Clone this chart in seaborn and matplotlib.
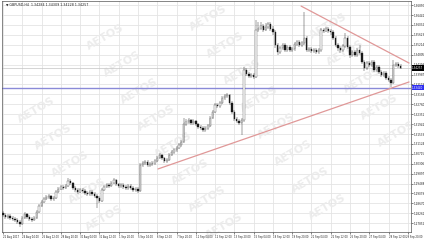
import numpy as np
import pandas as pd
import matplotlib
matplotlib.use("Agg")
import matplotlib.pyplot as plt
import matplotlib.transforms as mtransforms
import seaborn as sns

title_text = "GBPUSD,H4  1.34284 1.34309 1.34228 1.34257"

opens = [1.2827, 1.2819, 1.2811, 1.2815, 1.2807, 1.2802, 1.2798, 1.2790, 1.2782, 1.2807,
         1.2823, 1.2811, 1.2802, 1.2798, 1.2807, 1.2831, 1.2856, 1.2872, 1.2885, 1.2893,
         1.2897, 1.2885, 1.2889, 1.2914, 1.2926, 1.2934, 1.2930, 1.2939, 1.2959, 1.2951,
         1.2930, 1.2922, 1.2914, 1.2922, 1.2918, 1.2910, 1.2906, 1.2914, 1.2906, 1.2897,
         1.2889, 1.2877, 1.2922, 1.2934, 1.2943, 1.2939, 1.2951, 1.2963, 1.2947, 1.2939,
         1.2943, 1.2934, 1.2930, 1.2939, 1.2930, 1.2922, 1.2926, 1.2918, 1.3025, 1.3033,
         1.3037, 1.3025, 1.3029, 1.3033, 1.3042, 1.3054, 1.3066, 1.3054, 1.3042, 1.3046,
         1.3066, 1.3079, 1.3087, 1.3095, 1.3108, 1.3120, 1.3194, 1.3202, 1.3211, 1.3198,
         1.3207, 1.3194, 1.3182, 1.3178, 1.3170, 1.3178, 1.3186, 1.3219, 1.3244, 1.3273,
         1.3269, 1.3281, 1.3302, 1.3310, 1.3314, 1.3281, 1.3244, 1.3215, 1.3207, 1.3198,
         1.3211, 1.3417, 1.3401, 1.3392, 1.3397, 1.3388, 1.3582, 1.3590, 1.3599, 1.3582,
         1.3595, 1.3607, 1.3586, 1.3574, 1.3520, 1.3491, 1.3508, 1.3520, 1.3500, 1.3512,
         1.3500, 1.3504, 1.3525, 1.3533, 1.3520, 1.3529, 1.3549, 1.3500, 1.3504, 1.3496,
         1.3500, 1.3491, 1.3500, 1.3582, 1.3578, 1.3586, 1.3578, 1.3574, 1.3549, 1.3520,
         1.3508, 1.3500, 1.3516, 1.3549, 1.3512, 1.3479, 1.3491, 1.3479, 1.3500, 1.3487,
         1.3450, 1.3425, 1.3446, 1.3438, 1.3450, 1.3417, 1.3430, 1.3409, 1.3397, 1.3405,
         1.3384, 1.3376, 1.3364, 1.3438, 1.3442, 1.3434]

closes = [1.2819, 1.2811, 1.2815, 1.2807, 1.2802, 1.2798, 1.2790, 1.2782, 1.2807, 1.2823,
          1.2811, 1.2802, 1.2798, 1.2807, 1.2831, 1.2856, 1.2872, 1.2885, 1.2893, 1.2897,
          1.2885, 1.2889, 1.2914, 1.2926, 1.2934, 1.2930, 1.2939, 1.2959, 1.2951, 1.2930,
          1.2922, 1.2914, 1.2922, 1.2918, 1.2910, 1.2906, 1.2914, 1.2906, 1.2897, 1.2889,
          1.2877, 1.2922, 1.2934, 1.2943, 1.2939, 1.2951, 1.2963, 1.2947, 1.2939, 1.2943,
          1.2934, 1.2930, 1.2939, 1.2930, 1.2922, 1.2926, 1.2918, 1.3025, 1.3033, 1.3037,
          1.3025, 1.3029, 1.3033, 1.3042, 1.3054, 1.3066, 1.3054, 1.3042, 1.3046, 1.3066,
          1.3079, 1.3087, 1.3095, 1.3108, 1.3120, 1.3194, 1.3202, 1.3211, 1.3198, 1.3207,
          1.3194, 1.3182, 1.3178, 1.3170, 1.3178, 1.3186, 1.3219, 1.3244, 1.3273, 1.3269,
          1.3281, 1.3302, 1.3310, 1.3314, 1.3281, 1.3244, 1.3215, 1.3207, 1.3198, 1.3211,
          1.3417, 1.3401, 1.3392, 1.3397, 1.3388, 1.3582, 1.3590, 1.3599, 1.3582, 1.3595,
          1.3607, 1.3586, 1.3574, 1.3520, 1.3491, 1.3508, 1.3520, 1.3500, 1.3512, 1.3500,
          1.3504, 1.3525, 1.3533, 1.3520, 1.3529, 1.3549, 1.3500, 1.3504, 1.3496, 1.3500,
          1.3491, 1.3500, 1.3582, 1.3578, 1.3586, 1.3578, 1.3574, 1.3549, 1.3520, 1.3508,
          1.3500, 1.3516, 1.3549, 1.3512, 1.3479, 1.3491, 1.3479, 1.3500, 1.3487, 1.3450,
          1.3425, 1.3446, 1.3438, 1.3450, 1.3417, 1.3430, 1.3409, 1.3397, 1.3405, 1.3384,
          1.3376, 1.3364, 1.3438, 1.3442, 1.3434, 1.3425]

highs = [1.2835, 1.2827, 1.2823, 1.2823, 1.2815, 1.2811, 1.2807, 1.2798, 1.2815, 1.2831,
         1.2827, 1.2819, 1.2811, 1.2815, 1.2840, 1.2864, 1.2881, 1.2893, 1.2901, 1.2906,
         1.2901, 1.2897, 1.2922, 1.2934, 1.2943, 1.2943, 1.2947, 1.2972, 1.2967, 1.2955,
         1.2939, 1.2930, 1.2930, 1.2930, 1.2926, 1.2918, 1.2922, 1.2922, 1.2914, 1.2906,
         1.2897, 1.2930, 1.2943, 1.2951, 1.2951, 1.2959, 1.2972, 1.2967, 1.2951, 1.2951,
         1.2951, 1.2943, 1.2947, 1.2947, 1.2939, 1.2934, 1.2934, 1.3033, 1.3042, 1.3046,
         1.3046, 1.3037, 1.3042, 1.3050, 1.3062, 1.3075, 1.3071, 1.3058, 1.3054, 1.3075,
         1.3087, 1.3095, 1.3104, 1.3116, 1.3128, 1.3219, 1.3215, 1.3219, 1.3215, 1.3215,
         1.3211, 1.3198, 1.3190, 1.3186, 1.3186, 1.3194, 1.3227, 1.3252, 1.3281, 1.3281,
         1.3289, 1.3310, 1.3318, 1.3322, 1.3318, 1.3289, 1.3252, 1.3223, 1.3215, 1.3219,
         1.3430, 1.3425, 1.3409, 1.3405, 1.3405, 1.3624, 1.3615, 1.3615, 1.3607, 1.3611,
         1.3615, 1.3615, 1.3599, 1.3582, 1.3529, 1.3516, 1.3529, 1.3529, 1.3520, 1.3520,
         1.3512, 1.3533, 1.3541, 1.3541, 1.3537, 1.3656, 1.3557, 1.3512, 1.3512, 1.3508,
         1.3508, 1.3508, 1.3590, 1.3590, 1.3595, 1.3595, 1.3586, 1.3582, 1.3557, 1.3529,
         1.3516, 1.3525, 1.3570, 1.3557, 1.3520, 1.3500, 1.3500, 1.3508, 1.3520, 1.3496,
         1.3458, 1.3454, 1.3454, 1.3458, 1.3458, 1.3438, 1.3438, 1.3417, 1.3413, 1.3413,
         1.3392, 1.3384, 1.3458, 1.3450, 1.3450, 1.3442]

lows = [1.2811, 1.2802, 1.2802, 1.2798, 1.2794, 1.2790, 1.2782, 1.2769, 1.2778, 1.2802,
        1.2802, 1.2794, 1.2790, 1.2794, 1.2802, 1.2827, 1.2852, 1.2868, 1.2881, 1.2885,
        1.2877, 1.2877, 1.2885, 1.2910, 1.2922, 1.2922, 1.2926, 1.2934, 1.2943, 1.2922,
        1.2914, 1.2906, 1.2910, 1.2910, 1.2901, 1.2897, 1.2897, 1.2897, 1.2889, 1.2848,
        1.2868, 1.2872, 1.2918, 1.2930, 1.2930, 1.2934, 1.2947, 1.2939, 1.2930, 1.2930,
        1.2926, 1.2922, 1.2922, 1.2922, 1.2914, 1.2914, 1.2910, 1.2914, 1.3017, 1.3025,
        1.3017, 1.3017, 1.3021, 1.3025, 1.3037, 1.3050, 1.3046, 1.3033, 1.3033, 1.3042,
        1.3062, 1.3071, 1.3079, 1.3091, 1.3100, 1.3116, 1.3186, 1.3194, 1.3190, 1.3190,
        1.3186, 1.3174, 1.3170, 1.3161, 1.3161, 1.3170, 1.3182, 1.3215, 1.3240, 1.3260,
        1.3260, 1.3277, 1.3293, 1.3302, 1.3273, 1.3235, 1.3207, 1.3198, 1.3190, 1.3149,
        1.3202, 1.3392, 1.3384, 1.3384, 1.3380, 1.3384, 1.3574, 1.3582, 1.3574, 1.3578,
        1.3586, 1.3578, 1.3562, 1.3508, 1.3479, 1.3483, 1.3500, 1.3491, 1.3491, 1.3491,
        1.3491, 1.3496, 1.3516, 1.3512, 1.3512, 1.3520, 1.3491, 1.3491, 1.3487, 1.3487,
        1.3483, 1.3483, 1.3491, 1.3570, 1.3574, 1.3570, 1.3562, 1.3541, 1.3512, 1.3496,
        1.3487, 1.3491, 1.3508, 1.3504, 1.3467, 1.3471, 1.3471, 1.3471, 1.3479, 1.3442,
        1.3413, 1.3417, 1.3430, 1.3430, 1.3409, 1.3409, 1.3401, 1.3388, 1.3388, 1.3376,
        1.3368, 1.3347, 1.3359, 1.3430, 1.3425, 1.3421]

date_labels = ["22 Aug 2017", "24 Aug 04:00", "25 Aug 12:00", "28 Aug 20:00", "30 Aug 04:00",
               "31 Aug 12:00", "1 Sep 20:00", "5 Sep 04:00", "6 Sep 12:00", "7 Sep 20:00",
               "11 Sep 04:00", "12 Sep 12:00", "13 Sep 20:00", "15 Sep 04:00", "18 Sep 12:00",
               "19 Sep 20:00", "21 Sep 04:00", "22 Sep 12:00", "25 Sep 20:00", "27 Sep 04:00",
               "28 Sep 12:00", "29 Sep 20:00"]

price_ticks = [1.36850, 1.36441, 1.36032, 1.35623, 1.35214, 1.34805, 1.34396, 1.33987,
               1.33578, 1.33169, 1.32760, 1.32351, 1.31942, 1.31533, 1.31124, 1.30715,
               1.30306, 1.29897, 1.29488, 1.29079, 1.28670, 1.28261, 1.27852]

hline_price = 1.33440
last_price = 1.34257
upper_trend_bar = [123.7, 168.5]
upper_trend_price = [1.3681, 1.3446]
lower_trend_bar = [64.3, 168.5]
lower_trend_price = [1.3009, 1.3368]

# ---------------------------------------------------------------
sns.set_theme(style="white")
plt.rcParams['font.family'] = ['DejaVu Sans']

W, H = 424, 240
fig = plt.figure(figsize=(W / 100, H / 100), dpi=100)
fig.patch.set_facecolor("white")
ax = fig.add_axes([2 / W, 8 / H, 409 / W, 231 / H])
ax.set_facecolor("white")

df = pd.DataFrame({"bar": np.arange(len(closes)), "open": opens, "high": highs,
                   "low": lows, "close": closes})
up = df[df.close >= df.open]
dn = df[df.close < df.open]

# grid + ticks
tick_bars = np.arange(0, 8 * len(date_labels), 8)
ax.set_xticks(tick_bars)
ax.set_xticklabels([""] * len(tick_bars))
ax.set_yticks(price_ticks)
ax.set_yticklabels([f"{p:.5f}" for p in price_ticks], fontsize=2.0)
ax.grid(True, color="#e4e4e4", linewidth=0.6, linestyle="-", zorder=0)
ax.set_axisbelow(True)

# date labels drawn as text so the last one stays inside the picture
xtrans = mtransforms.blended_transform_factory(ax.transData, ax.transAxes)
for b, lbl in zip(tick_bars[:-1], date_labels[:-1]):
    ax.text(b, -0.012, lbl, transform=xtrans, fontsize=1.8, color="#222222",
            ha="left", va="top", clip_on=False)
ax.text((406 - 2) / 409, -0.012, date_labels[-1], transform=ax.transAxes,
        fontsize=1.8, color="#222222", ha="left", va="top", clip_on=False)

# watermarks (only those fully inside the picture)
for m in range(-2, 5):
    for n in range(-1, 10):
        px = 88 + 120 * m + 17 * n
        py = 10 + 8 * m + 27 * n
        if 22 <= px <= W - 22 and 12 <= py <= H - 12:
            ax.text(px / W, 1 - py / H, "AETOS", transform=fig.transFigure,
                    rotation=30, fontsize=8, fontweight="bold", color="#ececec",
                    ha="center", va="center", zorder=0.6, clip_on=False)

# candles
ax.vlines(df.bar, df.low, df.high, color="#3a3a3a", linewidth=0.35, zorder=2)
ax.bar(up.bar, up.close - up.open, bottom=up.open, width=0.6, color="white",
       edgecolor="#3a3a3a", linewidth=0.25, zorder=3)
ax.bar(dn.bar, dn.open - dn.close, bottom=dn.close, width=0.6, color="#1a1a1a",
       edgecolor="#1a1a1a", linewidth=0.25, zorder=3)

# lines
ax.axhline(last_price, color="#c4c4c4", linewidth=0.5, zorder=1)
ax.axhline(hline_price, color="#8a8ad8", linewidth=1.0, zorder=1.5)
sns.lineplot(x=upper_trend_bar, y=upper_trend_price, ax=ax, color="#e09898",
             linewidth=0.9, zorder=4)
sns.lineplot(x=lower_trend_bar, y=lower_trend_price, ax=ax, color="#e09898",
             linewidth=0.9, zorder=4)

ax.set_xlim(-0.41, 169.3)
ax.set_ylim(1.2749, 1.3702)
ax.yaxis.tick_right()
ax.tick_params(axis="both", length=1.2, width=0.4, pad=1, colors="#222222")
ax.tick_params(axis="y", right=True, left=False)
ax.tick_params(axis="x", bottom=True)
for s in ax.spines.values():
    s.set_color("#555555")
    s.set_linewidth(0.5)
ax.set_xlabel("")
ax.set_ylabel("")

# price boxes on scale
trans = mtransforms.blended_transform_factory(ax.transAxes, ax.transData)
ax.text(1.003, last_price, f"{last_price:.5f}", transform=trans, fontsize=2.0,
        color="white", va="center", ha="left", clip_on=False, zorder=6,
        bbox=dict(boxstyle="square,pad=0.25", fc="black", ec="black", lw=0))
ax.text(1.003, hline_price, f"{hline_price:.5f}", transform=trans, fontsize=2.0,
        color="white", va="center", ha="left", clip_on=False, zorder=6,
        bbox=dict(boxstyle="square,pad=0.25", fc="#2d2df0", ec="#2d2df0", lw=0))

fig.text(6 / W, 1 - 3 / H, "\u25bc " + title_text, fontsize=2.3, color="#222222",
         ha="left", va="top")

fig.savefig("out.png", dpi=100, facecolor="white")
